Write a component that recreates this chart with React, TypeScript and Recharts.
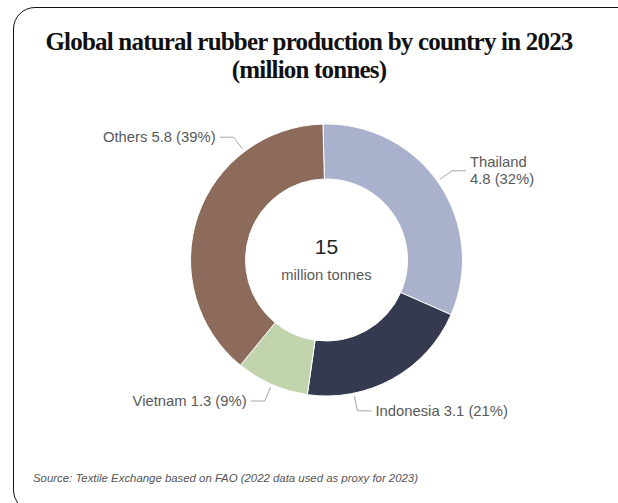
import { Cell, Pie, PieChart } from "recharts";

const countries = ["Thailand", "Indonesia", "Vietnam", "Others"];
const production = [4.8, 3.1, 1.3, 5.8];
const totalLabel = "15";
const totalUnit = "million tonnes";

const COLORS: Record<string, string> = {
  Thailand: "#a9b1cc",
  Indonesia: "#353a50",
  Vietnam: "#c2d4ae",
  Others: "#8d6b5a",
};

// Excel-style "best fit" placement: some labels sit off the slice middle
const LABEL_SHIFT: Record<string, number> = { Others: -34, Indonesia: -17.5, Thailand: 1.5 };
const WRAP = new Set(["Thailand"]);

const data = countries.map((name, i) => ({ name, value: production[i] }));

const RAD = Math.PI / 180;
const FONT = "Liberation Sans, Arial, sans-serif";

function SliceLabel(props: any) {
  const { cx, cy, midAngle, outerRadius, percent, name, value, index } = props;
  const a = (midAngle + (LABEL_SHIFT[name] ?? 0)) * RAD;
  const r0 = outerRadius + 3;
  const r1 = outerRadius + 18;
  const x0 = cx + r0 * Math.cos(a);
  const y0 = cy - r0 * Math.sin(a);
  const x1 = cx + r1 * Math.cos(a);
  const y1 = cy - r1 * Math.sin(a);
  const right = Math.cos(a) >= 0;
  const x2 = x1 + (right ? 14 : -14);
  const tx = x2 + (right ? 4 : -4);
  const pct = `${value.toFixed(1)} (${Math.round(percent * 100)}%)`;
  const anchor = right ? "start" : "end";
  const style = { fontFamily: FONT, fontSize: 14.8, fill: "#595959" };
  return (
    <g>
      {index === 0 && (
        <g style={{ fontFamily: FONT }}>
          <text x={cx} y={cy - 14} textAnchor="middle" dominantBaseline="central" fontSize={21} fill="#262626">
            {totalLabel}
          </text>
          <text x={cx} y={cy + 15} textAnchor="middle" dominantBaseline="central" fontSize={14.8} fill="#595959">
            {totalUnit}
          </text>
        </g>
      )}
      <polyline points={`${x0},${y0} ${x1},${y1} ${x2},${y1}`} fill="none" stroke="#a6a6a6" strokeWidth={1} />
      {WRAP.has(name) ? (
        <text x={tx} y={y1} textAnchor={anchor} style={style}>
          <tspan x={tx} y={y1 - 8.5} dominantBaseline="central">{name}</tspan>
          <tspan x={tx} y={y1 + 8.5} dominantBaseline="central">{pct}</tspan>
        </text>
      ) : (
        <text x={tx} y={y1} textAnchor={anchor} dominantBaseline="central" style={style}>
          {`${name} ${pct}`}
        </text>
      )}
    </g>
  );
}

export default function App() {
  return (
    <div style={{ position: "absolute", left: 0, top: 0, width: 618, height: 503, overflow: "hidden", background: "#fff" }}>
      <div
        style={{
          position: "absolute",
          left: 13,
          top: 7,
          width: 680,
          height: 503,
          border: "1.5px solid #111",
          borderRadius: 22,
        }}
      />
      <div
        style={{
          position: "absolute",
          left: 0,
          top: 28,
          width: 618,
          textAlign: "center",
          fontFamily: "Liberation Serif, Times New Roman, serif",
          fontWeight: 700,
          fontSize: 25,
          lineHeight: "28px",
          color: "#111",
          letterSpacing: -0.8,
        }}
      >
        Global natural rubber production by country in 2023
        <br />
        (million tonnes)
      </div>
      <div style={{ position: "absolute", left: 0, top: 0 }}>
        <PieChart width={618} height={503}>
          <Pie
            data={data}
            dataKey="value"
            nameKey="name"
            cx={321.5}
            cy={255}
            innerRadius={81}
            outerRadius={136}
            startAngle={91.5}
            endAngle={-268.5}
            stroke="#fff"
            strokeWidth={1}
            label={SliceLabel}
            labelLine={false}
            isAnimationActive={false}
          >
            {data.map((d) => (
              <Cell key={d.name} fill={COLORS[d.name]} />
            ))}
          </Pie>
        </PieChart>
      </div>
      <div
        style={{
          position: "absolute",
          left: 33,
          top: 472,
          fontFamily: FONT,
          fontStyle: "italic",
          fontSize: 11.4,
          color: "#555",
        }}
      >
        Source: Textile Exchange based on FAO (2022 data used as proxy for 2023)
      </div>
    </div>
  );
}
